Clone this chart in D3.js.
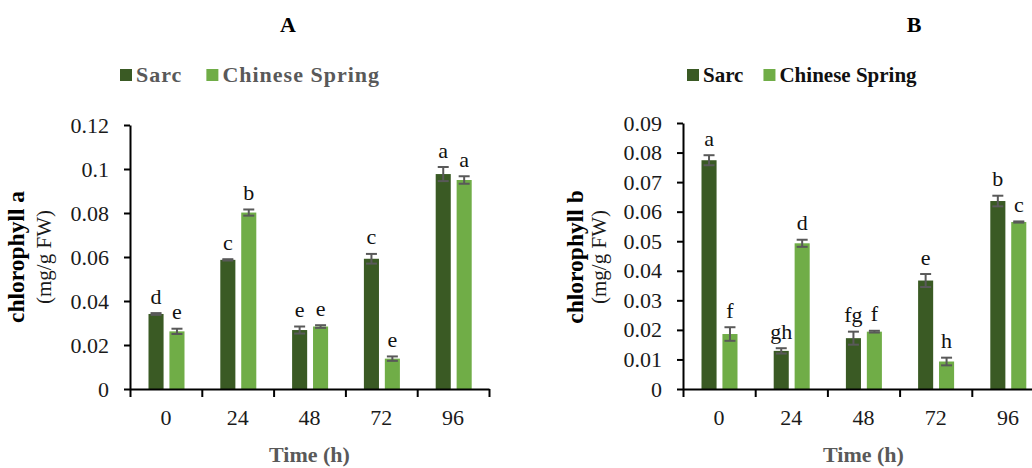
<!DOCTYPE html>
<html>
<head>
<meta charset="utf-8">
<script src="https://cdn.jsdelivr.net/npm/d3@7"></script>
<style>
  body { margin: 0; background: #fff; }
  svg { display: block; font-family: "Liberation Serif", "Times New Roman", serif; }
</style>
</head>
<body>
<svg width="1032" height="468"></svg>
<script>
// data
var hours = ["0", "24", "48", "72", "96"];
var series = ["Sarc", "Chinese Spring"];

var chlA_sarc = [0.0341, 0.0587, 0.0268, 0.0592, 0.0977];
var chlA_cs = [0.0262, 0.0802, 0.0284, 0.0138, 0.0950];
var chlA_sarcErr = [0.0004, 0.0003, 0.0016, 0.0022, 0.0032];
var chlA_csErr = [0.0012, 0.0014, 0.0006, 0.0010, 0.0017];
var chlA_sarcLet = ["d", "c", "e", "c", "a"];
var chlA_csLet = ["e", "b", "e", "e", "a"];
var chlA_ticks = [0, 0.02, 0.04, 0.06, 0.08, 0.1, 0.12];
var chlA_tickLabels = ["0", "0.02", "0.04", "0.06", "0.08", "0.1", "0.12"];

var chlB_sarc = [0.0774, 0.0129, 0.0172, 0.0367, 0.0636];
var chlB_cs = [0.0186, 0.0493, 0.0194, 0.0093, 0.0565];
var chlB_sarcErr = [0.0017, 0.0009, 0.0022, 0.0022, 0.0018];
var chlB_csErr = [0.0023, 0.0012, 0.0003, 0.0013, 0.0002];
var chlB_sarcLet = ["a", "gh", "fg", "e", "b"];
var chlB_csLet = ["f", "d", "f", "h", "c"];
var chlB_ticks = [0, 0.01, 0.02, 0.03, 0.04, 0.05, 0.06, 0.07, 0.08, 0.09];
var chlB_tickLabels = ["0", "0.01", "0.02", "0.03", "0.04", "0.05", "0.06", "0.07", "0.08", "0.09"];

var colors = ["#3a5a24", "#70ad47"];

var svg = d3.select("svg");

function panel(opt) {
    var g = svg.append("g");

    var x = d3.scaleBand().domain(hours).range([opt.left, opt.right]);
    var inner = d3.scaleBand().domain(series).range([18.5, 54.5]).paddingInner(0.28);
    var y = d3.scaleLinear().domain(opt.domain).range([389, opt.top]);

    var rows = hours.map(function (h, i) {
        return [
            { h: h, s: series[0], v: opt.sarc[i], e: opt.sarcErr[i], l: opt.sarcLet[i], c: colors[0] },
            { h: h, s: series[1], v: opt.cs[i], e: opt.csErr[i], l: opt.csLet[i], c: colors[1] }
        ];
    });
    var bars = [].concat.apply([], rows);

    g.selectAll("rect.bar")
        .data(bars)
        .enter().append("rect")
        .attr("class", "bar")
        .attr("x", function (d) { return x(d.h) + inner(d.s); })
        .attr("width", inner.bandwidth())
        .attr("y", function (d) { return y(d.v); })
        .attr("height", function (d) { return y(0) - y(d.v); })
        .attr("fill", function (d) { return d.c; });

    // error bars
    var err = g.selectAll("g.err")
        .data(bars)
        .enter().append("g")
        .attr("class", "err")
        .attr("stroke", "#595959")
        .attr("stroke-width", 2);
    err.append("line")
        .attr("x1", function (d) { return x(d.h) + inner(d.s) + inner.bandwidth() / 2; })
        .attr("x2", function (d) { return x(d.h) + inner(d.s) + inner.bandwidth() / 2; })
        .attr("y1", function (d) { return y(d.v + d.e); })
        .attr("y2", function (d) { return y(d.v - d.e); });
    [1, -1].forEach(function (sgn) {
        err.append("line")
            .attr("x1", function (d) { return x(d.h) + inner(d.s) + inner.bandwidth() / 2 - 5.5; })
            .attr("x2", function (d) { return x(d.h) + inner(d.s) + inner.bandwidth() / 2 + 5.5; })
            .attr("y1", function (d) { return y(d.v + sgn * d.e); })
            .attr("y2", function (d) { return y(d.v + sgn * d.e); });
    });

    // significance letters
    g.selectAll("text.let")
        .data(bars)
        .enter().append("text")
        .attr("class", "let")
        .attr("x", function (d) { return x(d.h) + inner(d.s) + inner.bandwidth() / 2; })
        .attr("y", function (d) { return y(d.v + d.e) - 9.5; })
        .attr("text-anchor", "middle")
        .attr("font-size", 22)
        .attr("fill", "#111")
        .text(function (d) { return d.l; });

    // y axis
    var yAxis = g.append("g")
        .attr("transform", "translate(" + opt.left + ",0)")
        .call(d3.axisLeft(y).tickValues(opt.ticks)
            .tickFormat(function (d, i) { return opt.tickLabels[i]; })
            .tickSize(6).tickSizeOuter(0).tickPadding(15));
    yAxis.selectAll("text").attr("font-size", 22).attr("fill", "#1a1a1a")
        .attr("font-family", "Liberation Serif");
    yAxis.selectAll("line, path").attr("stroke", "#000").attr("stroke-width", 2);

    // x axis: boundary ticks + centred labels
    var xb = d3.scaleLinear().domain([0, hours.length]).range([opt.left, opt.right]);
    var xTicks = g.append("g")
        .attr("transform", "translate(0,389)")
        .call(d3.axisBottom(xb).tickValues(d3.range(hours.length + 1))
            .tickFormat("").tickSize(8).tickSizeOuter(0));
    xTicks.selectAll("line, path").attr("stroke", "#000").attr("stroke-width", 2);

    var xLab = g.append("g")
        .attr("transform", "translate(0,389)")
        .call(d3.axisBottom(x).tickSize(0).tickPadding(20));
    xLab.select(".domain").remove();
    xLab.selectAll("text").attr("font-size", 22).attr("fill", "#1a1a1a")
        .attr("font-family", "Liberation Serif");

    // axis titles
    g.append("text")
        .attr("x", (opt.left + opt.right) / 2)
        .attr("y", 462)
        .attr("text-anchor", "middle")
        .attr("font-size", 22)
        .attr("font-weight", "bold")
        .attr("fill", "#595959")
        .text("Time (h)");

    g.append("text")
        .attr("transform", "translate(" + opt.ylab1 + ",257) rotate(-90)")
        .attr("text-anchor", "middle")
        .attr("dy", "0.35em")
        .attr("font-size", 23.5)
        .attr("font-weight", "bold")
        .attr("fill", "#000")
        .text(opt.ylabel);

    g.append("text")
        .attr("transform", "translate(" + opt.ylab2 + ",257) rotate(-90)")
        .attr("text-anchor", "middle")
        .attr("dy", "0.35em")
        .attr("font-size", 21)
        .attr("fill", "#1a1a1a")
        .text("(mg/g FW)");

    // panel letter
    g.append("text")
        .attr("x", opt.titleX)
        .attr("y", 32)
        .attr("text-anchor", "middle")
        .attr("font-size", 22)
        .attr("font-weight", "bold")
        .attr("fill", "#000")
        .text(opt.title);

    // legend
    var leg = g.append("g");
    var lx = opt.legX;
    series.forEach(function (s, i) {
        leg.append("rect")
            .attr("x", lx)
            .attr("y", 69)
            .attr("width", 12)
            .attr("height", 12)
            .attr("fill", colors[i]);
        var t = leg.append("text")
            .attr("x", lx + 16)
            .attr("y", 82)
            .attr("font-size", opt.legSize)
            .attr("font-weight", "bold")
            .attr("letter-spacing", opt.legSpacing)
            .attr("fill", opt.legColor)
            .text(s);
        lx = lx + 16 + t.node().getComputedTextLength() + opt.legGap;
    });
}

panel({
    left: 130, right: 489, top: 125, domain: [0, 0.12],
    sarc: chlA_sarc, cs: chlA_cs, sarcErr: chlA_sarcErr, csErr: chlA_csErr,
    sarcLet: chlA_sarcLet, csLet: chlA_csLet,
    ticks: chlA_ticks, tickLabels: chlA_tickLabels,
    ylabel: "chlorophyll a", ylab1: 16, ylab2: 44,
    title: "A", titleX: 288,
    legX: 120, legSize: 22, legSpacing: 1, legColor: "#595959", legGap: 24
});

panel({
    left: 683, right: 1044, top: 123, domain: [0, 0.09],
    sarc: chlB_sarc, cs: chlB_cs, sarcErr: chlB_sarcErr, csErr: chlB_csErr,
    sarcLet: chlB_sarcLet, csLet: chlB_csLet,
    ticks: chlB_ticks, tickLabels: chlB_tickLabels,
    ylabel: "chlorophyll b", ylab1: 575, ylab2: 599,
    title: "B", titleX: 914,
    legX: 687, legSize: 21, legSpacing: 0, legColor: "#111", legGap: 20
});
</script>
</body>
</html>
